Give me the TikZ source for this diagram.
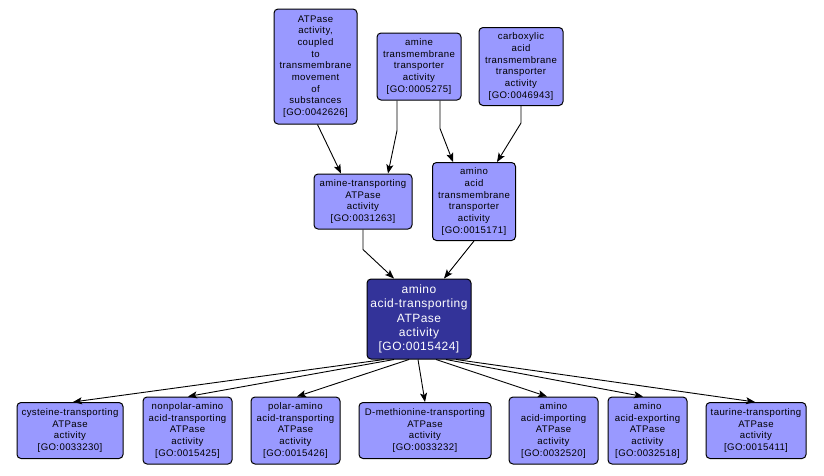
\documentclass[tikz,border=0pt]{standalone}
\usepackage{fontspec}
\setmainfont[LetterSpace=4]{Liberation Sans}
\usetikzlibrary{arrows.meta}
\definecolor{termfill}{RGB}{153,153,255}
\definecolor{focusfill}{RGB}{51,51,153}
\begin{document}
\begin{tikzpicture}[x=1pt,y=-1pt,
        term/.style={draw=black, line width=1pt, fill=termfill, rounded corners=4pt, align=center, inner sep=0pt,
                     font=\fontsize{9.6}{11.7}\selectfont},
        focus/.style={term, fill=focusfill, text=white, font=\fontsize{12}{14.2}\selectfont},
        edge/.style={draw=black, line width=0.9pt, -{Stealth[length=9pt,width=7pt,inset=2pt]}}]
        \useasboundingbox (0,0) rectangle (824,475);
        \node[term, minimum width=83, minimum height=115] (go42626) at (315.5,66.5) {ATPase\\activity,\\coupled\\to\\transmembrane\\movement\\of\\substances\\{[GO:0042626]}};
        \node[term, minimum width=84, minimum height=67] (go5275) at (419,66.5) {amine\\transmembrane\\transporter\\activity\\{[GO:0005275]}};
        \node[term, minimum width=84, minimum height=78] (go46943) at (521,66.5) {carboxylic\\acid\\transmembrane\\transporter\\activity\\{[GO:0046943]}};
        \node[term, minimum width=98, minimum height=55] (go31263) at (363,201.5) {amine-transporting\\ATPase\\activity\\{[GO:0031263]}};
        \node[term, minimum width=83, minimum height=78] (go15171) at (474,201.5) {amino\\acid\\transmembrane\\transporter\\activity\\{[GO:0015171]}};
        \node[focus, minimum width=104, minimum height=80] (go15424) at (419,319) {amino\\acid-transporting\\ATPase\\activity\\{[GO:0015424]}};
        \node[term, minimum width=106, minimum height=56] (go33230) at (70,430.5) {cysteine-transporting\\ATPase\\activity\\{[GO:0033230]}};
        \node[term, minimum width=89, minimum height=67] (go15425) at (187.5,430.5) {nonpolar-amino\\acid-transporting\\ATPase\\activity\\{[GO:0015425]}};
        \node[term, minimum width=89, minimum height=67] (go15426) at (295.5,430.5) {polar-amino\\acid-transporting\\ATPase\\activity\\{[GO:0015426]}};
        \node[term, minimum width=132, minimum height=56] (go33232) at (425,430.5) {D-methionine-transporting\\ATPase\\activity\\{[GO:0033232]}};
        \node[term, minimum width=89, minimum height=67] (go32520) at (553.5,430.5) {amino\\acid-importing\\ATPase\\activity\\{[GO:0032520]}};
        \node[term, minimum width=79, minimum height=67] (go32518) at (647.5,430.5) {amino\\acid-exporting\\ATPase\\activity\\{[GO:0032518]}};
        \node[term, minimum width=100, minimum height=56] (go15411) at (756,430.5) {taurine-transporting\\ATPase\\activity\\{[GO:0015411]}};
        \draw[edge] ([xshift=2]go42626.south) -- ([xshift=-22]go31263.north);
        \draw[edge] ([xshift=-22]go5275.south) -- ++(0,30) -- ([xshift=25]go31263.north);
        \draw[edge] ([xshift=21]go5275.south) -- ++(0,28) -- ([xshift=-21]go15171.north);
        \draw[edge] (go46943.south) -- ++(0,17) -- ([xshift=23]go15171.north);
        \draw[edge] (go31263.south) -- ++(0,20) -- ([xshift=-25]go15424.north);
        \draw[edge] (go15171.south) -- ([xshift=-30]go15171.south |- go15424.north);
        \draw[edge] ([xshift=-35]go15424.south) -- ([xshift=3]go33230.north);
        \draw[edge] ([xshift=-25]go15424.south) -- ([xshift=0.5]go15425.north);
        \draw[edge] ([xshift=-10]go15424.south) -- ([xshift=1.5]go15426.north);
        \draw[edge] ([xshift=-1]go15424.south) -- (go33232.north);
        \draw[edge] ([xshift=17]go15424.south) -- ([xshift=-6.5]go32520.north);
        \draw[edge] ([xshift=27]go15424.south) -- ([xshift=-4.5]go32518.north);
        \draw[edge] ([xshift=37]go15424.south) -- ([xshift=-1]go15411.north);
\end{tikzpicture}
\end{document}
